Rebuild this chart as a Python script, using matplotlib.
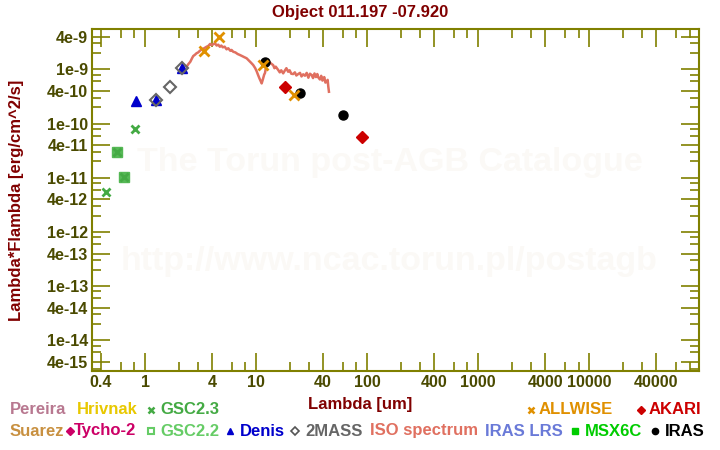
import matplotlib
matplotlib.use('Agg')
import matplotlib.pyplot as plt
from matplotlib.ticker import LogLocator, FixedFormatter, FixedLocator, NullFormatter
from matplotlib.lines import Line2D

plt.rcParams['font.family'] = ['Liberation Sans', 'DejaVu Sans']
plt.rcParams['font.weight'] = 'bold'

# ISO spectrum (um, erg/cm^2/s)
iso_wl = [2.36, 2.45, 2.55, 2.65, 2.71, 2.80, 2.90, 3.00, 3.11, 3.25, 3.40, 3.57,
          3.70, 3.85, 3.95, 4.10, 4.25, 4.40, 4.55, 4.71, 4.85, 5.00, 5.20, 5.41,
          5.60, 5.85, 6.00, 6.21, 6.50, 6.80, 7.13, 7.50, 7.80, 8.20, 8.60, 9.00,
          9.40, 9.80, 10.1, 10.4, 10.7, 11.0, 11.2, 11.5, 11.8, 12.0, 12.3, 12.6,
          12.8, 13.2, 13.6, 14.2, 14.6, 15.0, 15.8, 16.3, 16.8, 17.5, 18.0, 18.7,
          19.4, 20.0, 20.7, 21.5, 22.3, 23.0, 23.9, 24.8, 25.6, 26.5, 27.5, 28.5,
          29.5, 30.5, 31.6, 32.5, 33.5, 34.5, 35.5, 36.2, 37.5, 38.5, 39.5, 40.2,
          41.0, 42.0, 43.1, 44.0, 44.6, 45.2]
iso_flux = [1.12e-9, 1.25e-9, 1.38e-9, 1.62e-9, 1.76e-9, 1.85e-9, 1.98e-9, 2.05e-9,
            2.20e-9, 2.35e-9, 2.45e-9, 2.61e-9, 2.70e-9, 2.95e-9, 2.80e-9, 2.89e-9,
            3.05e-9, 2.75e-9, 2.85e-9, 2.61e-9, 2.75e-9, 2.55e-9, 2.62e-9, 2.34e-9,
            2.45e-9, 2.20e-9, 2.28e-9, 2.11e-9, 2.05e-9, 1.92e-9, 1.84e-9, 1.75e-9,
            1.68e-9, 1.60e-9, 1.45e-9, 1.32e-9, 1.20e-9, 1.05e-9, 9.2e-10, 7.85e-10,
            6.8e-10, 6.0e-10, 5.5e-10, 6.6e-10, 8.0e-10, 8.55e-10, 1.15e-9, 1.40e-9,
            1.48e-9, 1.35e-9, 1.28e-9, 1.20e-9, 1.05e-9, 1.12e-9, 9.7e-10, 8.8e-10,
            9.6e-10, 8.44e-10, 9.3e-10, 1.05e-9, 9.03e-10, 9.6e-10, 8.3e-10, 8.19e-10,
            8.8e-10, 7.7e-10, 8.19e-10, 8.6e-10, 7.4e-10, 8.1e-10, 7.62e-10, 8.6e-10,
            7.0e-10, 8.3e-10, 7.85e-10, 6.9e-10, 8.4e-10, 7.2e-10, 8.2e-10, 7.12e-10,
            6.5e-10, 7.6e-10, 6.2e-10, 6.54e-10, 7.2e-10, 5.7e-10, 5.9e-10, 6.4e-10,
            4.8e-10, 3.86e-10]

# photometry
gsc23_wl = [0.443, 0.556, 0.643, 0.81]
gsc23_flux = [5.4e-12, 2.95e-11, 1.02e-11, 7.8e-11]
gsc22_wl = [0.556, 0.643]
gsc22_flux = [2.95e-11, 1.02e-11]
denis_wl = [0.82, 1.26, 2.14]
denis_flux = [2.64e-10, 2.68e-10, 1.07e-9]
tmass_wl = [1.26, 1.68, 2.14]
tmass_flux = [2.68e-10, 4.78e-10, 1.07e-9]
allwise_wl = [3.4, 4.6, 11.6, 21.9]
allwise_flux = [2.15e-9, 3.9e-9, 1.19e-9, 3.31e-10]
iras_wl = [12.05, 24.9, 60.8]
iras_flux = [1.36e-9, 3.6e-10, 1.42e-10]
akari_wl = [18.1, 89.6]
akari_flux = [4.66e-10, 5.56e-11]

x_major = [0.4, 1, 4, 10, 40, 100, 400, 1000, 4000, 10000, 40000]
x_labels = ['0.4', '1', '4', '10', '40', '100', '400', '1000', '4000', '10000', '40000']
y_major = [4e-15, 1e-14, 4e-14, 1e-13, 4e-13, 1e-12, 4e-12, 1e-11, 4e-11,
           1e-10, 4e-10, 1e-9, 4e-9]
y_labels = ['4e-15', '1e-14', '4e-14', '1e-13', '4e-13', '1e-12', '4e-12', '1e-11',
            '4e-11', '1e-10', '4e-10', '1e-9', '4e-9']

OLIVE = '#808000'
TICKTXT = '#4a4a00'
DARKRED = '#800000'

fig = plt.figure(figsize=(7.2, 4.5), dpi=100)
ax = fig.add_axes([92 / 720, 1 - 371 / 450, 607 / 720, 342 / 450])

# watermarks
ax.text(0.49, 0.61, 'The Torun post-AGB Catalogue', transform=ax.transAxes,
        fontsize=24.5, color='#fbf9f6', ha='center', va='center', zorder=0)
ax.text(0.49, 0.32, 'http://www.ncac.torun.pl/postagb', transform=ax.transAxes,
        fontsize=24.5, color='#fbf9f6', ha='center', va='center', zorder=0)

ax.plot(iso_wl, iso_flux, color='#e07060', lw=1.8, zorder=2)
ax.plot(gsc22_wl, gsc22_flux, 's', ms=6.5, mfc='#55b855', mec='#55b855', zorder=3)
ax.plot(gsc23_wl, gsc23_flux, 'x', ms=6, mew=2, color='#44aa44', zorder=4)
ax.plot(denis_wl, denis_flux, '^', ms=7.5, color='#0000cc', zorder=3)
ax.plot(tmass_wl, tmass_flux, 'D', ms=6, mfc='none', mec='#666666', mew=1.5, zorder=4)
ax.plot(iras_wl, iras_flux, 'o', ms=6.5, color='black', zorder=4)
ax.plot(allwise_wl, allwise_flux, 'x', ms=7, mew=2, color='#e09000', zorder=5)
ax.plot(akari_wl, akari_flux, 'D', ms=6.5, color='#cc0000', zorder=4)

ax.set_xscale('log')
ax.set_yscale('log')
ax.set_xlim(0.332, 9.73e4)
ax.set_ylim(2.72e-15, 5.55e-9)

ax.xaxis.set_major_locator(FixedLocator(x_major))
ax.xaxis.set_major_formatter(FixedFormatter(x_labels))
ax.xaxis.set_minor_locator(LogLocator(base=10, subs=(2, 3, 6, 8), numticks=20))
ax.xaxis.set_minor_formatter(NullFormatter())
ax.yaxis.set_major_locator(FixedLocator(y_major))
ax.yaxis.set_major_formatter(FixedFormatter(y_labels))
ax.yaxis.set_minor_locator(LogLocator(base=10, subs=(2, 3, 6, 8), numticks=20))
ax.yaxis.set_minor_formatter(NullFormatter())

ax.tick_params(which='both', direction='in', top=True, right=True, color=OLIVE,
               width=1.2, labelsize=11.5, labelcolor=TICKTXT, pad=3)
ax.tick_params(which='major', length=13)
ax.tick_params(which='minor', length=6.5)
for lab in ax.get_xticklabels() + ax.get_yticklabels():
    lab.set_fontweight('bold')
for sp in ax.spines.values():
    sp.set_color(OLIVE)
    sp.set_linewidth(1.5)

fig.text(0.5, 1 - 12 / 450, 'Object 011.197 -07.920', ha='center', va='center',
         fontsize=12, color=DARKRED, fontweight='bold')
fig.text(17 / 720, 1 - 200 / 450, 'Lambda*Flambda [erg/cm^2/s]', rotation=90,
         ha='center', va='center', fontsize=12, color=DARKRED, fontweight='bold')
fig.text(360 / 720, 1 - 405 / 450, 'Lambda [um]', ha='center', va='center',
         fontsize=12, color=DARKRED, fontweight='bold')

# legend, drawn as in the catalogue page
def leg_text(x, y, s, c):
    fig.text(x / 720, 1 - y / 450, s, ha='left', va='center', fontsize=12,
             color=c, fontweight='bold')

def leg_mark(x, y, m, c, **kw):
    fig.add_artist(Line2D([x / 720], [1 - y / 450], marker=m, color=c, ls='none',
                          transform=fig.transFigure, **kw))

r1, r2 = 410, 431
leg_text(10, r1, 'Pereira', '#b87890')
leg_text(77, r1, 'Hrivnak', '#e8c800')
leg_mark(151, r1, 'x', '#44aa44', ms=5, mew=1.8)
leg_text(160, r1, 'GSC2.3', '#44aa44')
leg_mark(531, r1, 'x', '#e09000', ms=5, mew=1.8)
leg_text(539, r1, 'ALLWISE', '#e09000')
leg_mark(641, r1, 'D', '#cc0000', ms=4.5)
leg_text(649, r1, 'AKARI', '#cc0000')

leg_text(10, r2, 'Suarez', '#c89040')
leg_mark(70, r2, 'D', '#cc0066', ms=4.5)
leg_text(74, r2, 'Tycho-2', '#cc0066')
leg_mark(151, r2, 's', '#66cc66', ms=4.5, mfc='none', mew=1.5)
leg_text(160, r2, 'GSC2.2', '#66cc66')
leg_mark(230, r2, '^', '#0000cc', ms=5)
leg_text(240, r2, 'Denis', '#0000cc')
leg_mark(295, r2, 'D', '#555555', ms=4, mfc='none', mew=1.2)
leg_text(305, r2, '2MASS', '#666666')
leg_text(370, r2, 'ISO spectrum', '#e07060')
leg_text(485, r2, 'IRAS LRS', '#6a7ad8')
leg_mark(575, r2, 's', '#00cc00', ms=5)
leg_text(585, r2, 'MSX6C', '#00cc00')
leg_mark(655, r2, 'o', 'black', ms=4.5)
leg_text(665, r2, 'IRAS', 'black')

fig.savefig('out.png', dpi=100)
